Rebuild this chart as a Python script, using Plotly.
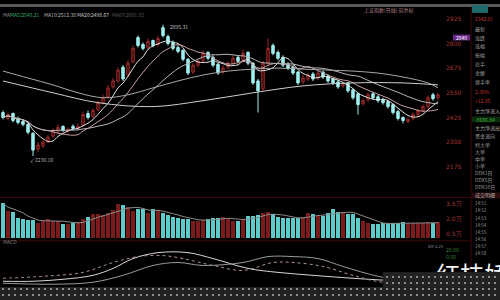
import plotly.graph_objects as go
import pandas as pd

# ---------------- data ----------------
idx = list(range(88))
opens = [2450,2420,2445,2420,2405,2390,2345,2265,2280,2300,2330,2355,2380,2355,2380,2370,2385,2445,2430,2465,
         2500,2530,2580,2610,2680,2640,2705,2830,2795,2780,2815,2795,2880,2835,2805,2780,2765,2720,2655,2690,
         2715,2755,2730,2695,2655,2680,2700,2730,2715,2755,2700,2610,2570,2700,2790,2755,2730,2695,2680,2655,
         2605,2620,2645,2625,2655,2635,2620,2605,2585,2600,2565,2545,2495,2515,2545,2530,2515,2505,2490,2455,
         2425,2405,2418,2440,2460,2480,2540,2525]
closes = [2425,2440,2410,2400,2390,2350,2260,2285,2300,2325,2360,2375,2360,2365,2370,2380,2440,2425,2460,2500,
          2525,2575,2610,2665,2620,2700,2775,2790,2775,2810,2790,2825,2840,2800,2775,2760,2720,2650,2690,2710,
          2750,2725,2690,2650,2675,2700,2725,2710,2750,2700,2600,2560,2700,2775,2750,2725,2690,2675,2650,2600,
          2625,2640,2620,2650,2630,2610,2600,2580,2590,2560,2525,2490,2510,2540,2525,2510,2500,2480,2450,2420,
          2410,2415,2440,2460,2480,2525,2520,2540]
highs = [2460,2450,2450,2430,2415,2395,2350,2300,2310,2335,2370,2390,2385,2375,2390,2395,2455,2460,2470,2510,
         2540,2590,2625,2680,2690,2715,2790,2840,2805,2825,2820,2840,2895,2845,2815,2790,2770,2725,2700,2720,
         2765,2760,2740,2700,2690,2710,2740,2740,2770,2760,2705,2620,2710,2825,2800,2765,2740,2705,2690,2660,
         2640,2650,2655,2665,2660,2645,2625,2615,2600,2605,2570,2550,2520,2550,2555,2540,2525,2510,2495,2465,
         2430,2425,2450,2470,2490,2535,2550,2550]
lows = [2415,2410,2400,2390,2380,2340,2230,2250,2270,2295,2320,2345,2350,2345,2360,2360,2380,2415,2420,2455,
        2490,2520,2570,2600,2610,2630,2700,2780,2765,2770,2780,2785,2830,2790,2765,2750,2710,2640,2645,2680,
        2705,2715,2680,2640,2645,2670,2695,2700,2705,2690,2590,2450,2560,2690,2740,2715,2680,2665,2640,2590,
        2595,2610,2610,2615,2620,2600,2590,2570,2575,2550,2515,2440,2485,2505,2515,2500,2490,2470,2440,2410,
        2395,2395,2410,2430,2450,2470,2510,2515]
volumes = [36,28,27,21,20,19,19,16,18,20,18,18,15,15,16,17,20,22,25,25,
           24,26,29,35,34,32,28,30,30,26,30,28,26,24,22,21,20,20,18,18,
           19,20,21,21,22,20,18,18,20,23,23,24,26,27,25,22,21,21,21,21,
           22,26,25,24,23,26,30,27,27,25,25,21,18,16,15,15,16,16,16,16,
           17,16,16,16,16,17,16,17]

ma60_idx = [0,5,10,15,20,25,30,35,40,45,50,55,60,65,70,75,80,85,87]
ma60_val = [2660,2625,2590,2550,2525,2540,2575,2610,2640,2660,2670,2675,2670,2665,2660,2650,2630,2600,2575]
ma120_idx = [0,10,19,30,40,50,60,70,80,87]
ma120_val = [2610,2550,2500,2480,2510,2550,2585,2600,2600,2590]

ind_a_idx = [0,6,12,18,22,26,31,37,42,49,55,62,70,80,87]
ind_a_val = [19,19,21,25,32,42,48,48,42,32,28,25,22,19,17]
ind_b_idx = [0,10,18,24,30,35,40,48,53,58,63,68,75,80,87]
ind_b_val = [17,16,18,25,35,38,35,38,44,44,42,34,24,20,20]
ind_c_idx = [0,8,16,22,27,32,36,42,48,54,58,64,70,76,87]
ind_c_val = [22,24,28,38,44,45,42,35,30,38,38,34,25,18,19]

price_ticks = [2925, 2800, 2675, 2550, 2425, 2300, 2175]
vol_ticks = [5, 20, 35]
vol_ticktext = ["0.5万", "2.0万", "3.5万"]

panel_labels = ["最新", "涨跌", "涨幅", "振幅", "总手", "金额", "换手率"]
flow_labels = ["特大单", "大单", "中单", "小单", "DDX1日", "DDX5日", "DDX10日"]
trade_times = ["14:51", "14:52", "14:53", "14:54", "14:55", "14:56", "14:57", "14:58"]

# ---------------- derived ----------------
cs = pd.Series(closes)
ma5 = cs.rolling(5, min_periods=1).mean()
ma10 = cs.rolling(10, min_periods=1).mean()
ma20 = cs.rolling(20, min_periods=1).mean()
vma = pd.Series(volumes).rolling(5, min_periods=1).mean()

UP_LINE = "#9c2b2b"
UP_FILL = "#3a0a0a"
DN = "#9ff0f0"
VOL_DN = "#5fcaca"
VOL_UP = "#7a1c1c"
vol_colors = [VOL_UP if c >= o else VOL_DN for o, c in zip(opens, closes)]

fig = go.Figure()

# main candles
fig.add_trace(go.Candlestick(
    x=idx, open=opens, high=highs, low=lows, close=closes,
    increasing=dict(line=dict(color=UP_LINE, width=1), fillcolor=UP_FILL),
    decreasing=dict(line=dict(color=DN, width=1), fillcolor=DN),
    whiskerwidth=0, xaxis="x", yaxis="y", showlegend=False, hoverinfo="skip"))

for xs, ys, col in [(idx, ma5, "#e6e6e6"), (idx, ma10, "#c9a0a0"), (idx, ma20, "#b5b5b5"),
                    (ma60_idx, ma60_val, "#a8a8a8"), (ma120_idx, ma120_val, "#cfcfcf")]:
    fig.add_trace(go.Scatter(x=xs, y=ys, mode="lines", line=dict(color=col, width=1, shape="spline"),
                             xaxis="x", yaxis="y", showlegend=False, hoverinfo="skip"))

# volume
fig.add_trace(go.Bar(x=idx, y=volumes, marker=dict(color=vol_colors, line=dict(width=0)), width=0.66,
                     xaxis="x2", yaxis="y2", showlegend=False, hoverinfo="skip"))
fig.add_trace(go.Scatter(x=idx, y=vma, mode="lines", line=dict(color="#8a8a8a", width=1),
                         xaxis="x2", yaxis="y2", showlegend=False, hoverinfo="skip"))

# indicator
for xs, ys, col, dash in [(ind_a_idx, ind_a_val, "#d8d8d8", "solid"), (ind_b_idx, ind_b_val, "#9a9a9a", "solid"),
                          (ind_c_idx, ind_c_val, "#b09090", "dot")]:
    fig.add_trace(go.Scatter(x=xs, y=ys, mode="lines", line=dict(color=col, width=1, shape="spline", dash=dash),
                             xaxis="x3", yaxis="y3", showlegend=False, hoverinfo="skip"))

# watermark in overlay subplot x4 (pixel coordinates), partly covered by the dotted strip in subplot x5
fig.add_trace(go.Scatter(x=[472], y=[278], mode="text", text=["红枝娇"],
                         textfont=dict(family="Noto Sans CJK SC", size=24, color="#f4f4f4"),
                         xaxis="x4", yaxis="y4", showlegend=False, hoverinfo="skip"))

pat = dict(shape=".", fgcolor="#b8b8b8", bgcolor="#222222", size=6, solidity=0.08, fillmode="replace")
fig.add_trace(go.Bar(x=[250], y=[13], base=[287], width=[500],
                     marker=dict(color="#222222", pattern=pat, line=dict(width=0)),
                     xaxis="x5", yaxis="y5", showlegend=False, hoverinfo="skip"))
fig.add_trace(go.Bar(x=[441.5], y=[15.5], base=[272], width=[117],
                     marker=dict(color="#222222", pattern=pat, line=dict(width=0)),
                     xaxis="x5", yaxis="y5", showlegend=False, hoverinfo="skip"))

def py(p):
    return 1 - p / 300.0

XR = [-0.6, 88.4]
XD = [0, 0.89]
tickfont = dict(size=6, color="#a83535", family="DejaVu Sans")
fig.update_layout(
    width=500, height=300, margin=dict(l=0, r=0, t=0, b=0),
    paper_bgcolor="#000000", plot_bgcolor="rgba(0,0,0,0)", showlegend=False, bargap=0,
    xaxis=dict(domain=XD, range=XR, visible=False, rangeslider=dict(visible=False), anchor="y"),
    yaxis=dict(domain=[py(195), py(15)], range=[2025, 2925], side="right", anchor="x",
               tickvals=price_ticks, ticktext=[str(v) for v in price_ticks], tickfont=tickfont,
               showgrid=False, zeroline=False, showline=False, ticks=""),
    xaxis2=dict(domain=XD, range=XR, visible=False, anchor="y2"),
    yaxis2=dict(domain=[py(238), py(198)], range=[0, 40], side="right", anchor="x2",
                tickvals=vol_ticks, ticktext=vol_ticktext, tickfont=tickfont,
                showgrid=False, zeroline=False, showline=False, ticks=""),
    xaxis3=dict(domain=XD, range=XR, visible=False, anchor="y3"),
    yaxis3=dict(domain=[py(298), py(242)], range=[2, 58], side="right", anchor="x3",
                tickvals=[50, 43], ticktext=["20.00", "0.00"], tickfont=dict(size=5, color="#3a8a3a"),
                showgrid=False, zeroline=False, showline=False, ticks=""),
    xaxis4=dict(domain=[0, 1], range=[0, 500], visible=False, anchor="y4"),
    yaxis4=dict(domain=[0, 1], range=[300, 0], visible=False, anchor="x4"),
    xaxis5=dict(domain=[0, 1], range=[0, 500], visible=False, anchor="y5"),
    yaxis5=dict(domain=[0, 1], range=[300, 0], visible=False, anchor="x5"),
)

shapes = []
def hline(yp, x0=0, x1=471, color="#3c0c0c"):
    shapes.append(dict(type="line", xref="paper", yref="paper", x0=x0/500, x1=x1/500, y0=py(yp), y1=py(yp),
                       line=dict(color=color, width=1), layer="below"))
hline(196)
hline(240)
shapes.append(dict(type="line", xref="paper", yref="paper", x0=471/500, x1=471/500, y0=py(300), y1=py(0),
                   line=dict(color="#3c0c0c", width=1), layer="below"))
shapes.append(dict(type="rect", xref="paper", yref="paper", x0=0, x1=1, y0=py(3), y1=1,
                   fillcolor="#5a5a5a", line=dict(width=0), layer="below"))
shapes.append(dict(type="rect", xref="paper", yref="paper", x0=472/500, x1=488/500, y0=py(9), y1=py(1),
                   fillcolor="#1f6a6a", line=dict(width=0), layer="below"))
shapes.append(dict(type="rect", xref="paper", yref="paper", x0=453/500, x1=470/500, y0=py(37), y1=py(31),
                   fillcolor="#6a2a8a", line=dict(width=0), layer="below"))
shapes.append(dict(type="rect", xref="paper", yref="paper", x0=472/500, x1=500/500, y0=py(120), y1=py(114),
                   fillcolor="#0c2a0c", line=dict(width=0), layer="below"))
shapes.append(dict(type="rect", xref="paper", yref="paper", x0=472/500, x1=500/500, y0=py(197), y1=py(191),
                   fillcolor="#2a0c0c", line=dict(width=0), layer="below"))
fig.update_layout(shapes=shapes)

anns = []
def ann(xp, yp, text, color, size=5, anchor="left"):
    anns.append(dict(x=xp/500, y=py(yp), xref="paper", yref="paper", text=text, showarrow=False,
                     xanchor=anchor, yanchor="middle", font=dict(size=size, color=color, family="Noto Sans CJK SC")))

# title row
ann(1, 11, "MA", "#909090")
ann(8, 11, "MA5:2540.21", "#3fae6f")
ann(42, 11, "MA10:2512.38", "#b8b8b8")
ann(75, 11, "MA20:2498.67", "#d0d0d0")
ann(110, 11, "MA60:2601.55", "#5a5a5a")
ann(362, 6, "上证指数(日线) 前复权", "#b08080")
# price marks
ann(168, 23, "2895.31", "#c0c0c0")
ann(28, 158, "↙2230.10", "#b0b0b0")
ann(454, 34, "2840", "#ffffff")
# lower panel labels
ann(1, 241, "MACD", "#808080")
ann(426, 245, "DIF:3.25", "#909090", 4)
# right info panel
ann(473, 15, "2342.81", "#c03030")
for k, t in enumerate(panel_labels):
    ann(473, 25 + k * 9, t, "#9a9a9a")
ann(473, 89, "2.36%", "#c03030")
ann(473, 98, "+12.85", "#c03030")
ann(473, 108, "主力净流入", "#a8a8a8")
ann(473, 117, "-8686.84", "#40b040")
ann(473, 126, "主力净流出", "#a8a8a8")
ann(473, 134, "资金流向", "#a8a8a8")
for k, t in enumerate(flow_labels):
    ann(473, 143 + k * 7, t, "#9a9a9a")
ann(473, 194, "成交明细", "#b0b0b0")
for k, t in enumerate(trade_times):
    ann(473, 202 + k * 7.2, t, "#9a9a9a", 4.5)
fig.update_layout(annotations=anns)

fig.write_html("out.html")
